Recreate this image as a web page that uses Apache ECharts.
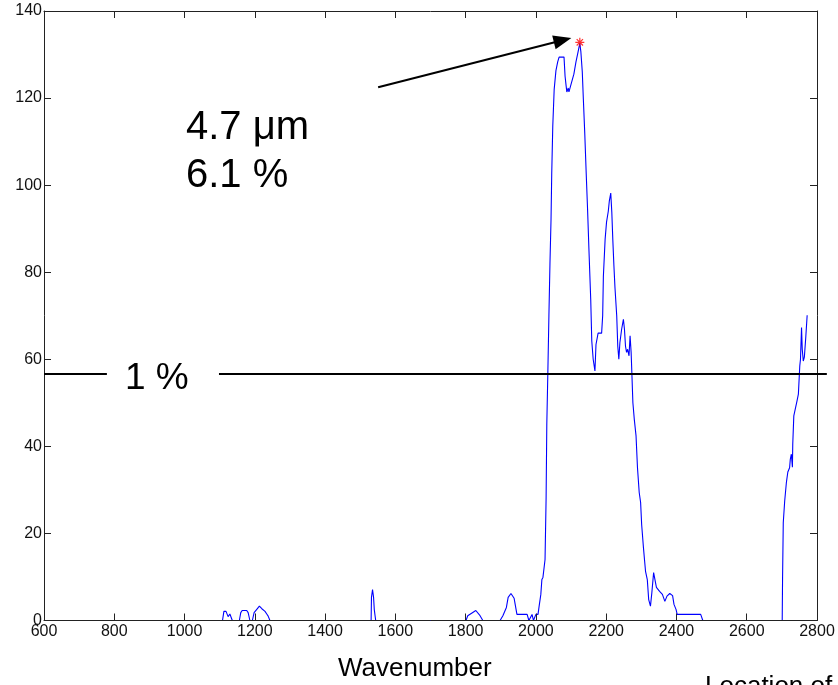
<!DOCTYPE html>
<html>
<head>
<meta charset="utf-8">
<script src="https://cdn.jsdelivr.net/npm/echarts@6/dist/echarts.min.js"></script>
<style>
html,body{margin:0;padding:0;background:#fff;}
#chart{width:838px;height:685px;}
</style>
</head>
<body>
<div id="chart"></div>
<script>
// ---- data ----
const waveNumber = [
  600,1108,1112,1118,1124,1129,1136,1156,1160,1164,1177,1181,1186,1193,1198,1205,1213,1220,1229,1234,1238,1243,
  1531,1532,1535,1538,1540,1544,1801,1806,1829,1841,1849,1898,1906,1916,1921,1929,1938,1946,1975,1980,1989,1993,
  2000,2006,2009,2014,2017,2020,2026,2029,2031,2034,2037,2040,2043,2045,2048,2052,2057,2062,2066,2080,2083,2086,
  2088,2092,2094,2097,2102,2108,2114,2120,2125,2128,2132,2135,2139,2143,2147,2151,2156,2159,2163,2168,2171,2177,
  2187,2190,2192,2197,2201,2206,2209,2213,2216,2219,2222,2225,2230,2233,2236,2239,2244,2249,2252,2255,2258,2261,
  2265,2268,2271,2273,2276,2280,2285,2289,2294,2298,2301,2306,2309,2312,2317,2321,2326,2330,2335,2339,2343,2352,
  2360,2367,2373,2381,2389,2393,2399,2402,2469,2475,2701,2702,2704,2708,2713,2717,2722,2724,2727,2730,2731,2734,
  2739,2743,2747,2751,2753,2756,2758,2761,2764,2768,2772
];
const signal = [
  0,0,2.1,2.1,0.9,1.5,0,0,1.8,2.3,2.3,1.8,0,0,1.8,2.5,3.3,2.7,2.1,1.5,1.0,0,
  0,5.3,7.1,5.3,2.5,0,0,1.1,2.3,1.1,0,0,1.1,3.0,5.3,6.2,5.1,1.4,1.4,0,1.4,0,
  1.4,1.4,3.2,6,9.4,9.9,14,28,45,57,70,82,92,102.5,113.6,122,126.3,128.3,129.4,129.4,125,122.8,
  121.4,122.3,121.4,122.3,122.5,125.5,128.3,130.6,132.6,130.6,126,119.8,112,103,94.5,85,73.8,64.2,60,57.3,63.4,66,
  66,70,79,87.6,91.5,94,96.4,98.2,93.8,87.2,81.5,76.5,70,63,60,63.8,66.9,69.2,66.9,63,61.6,62.3,
  60.8,65.4,61.6,57,50,46.2,42.4,35.2,29.4,27.1,22,16.8,14,11.3,9.4,4.8,3.3,6.4,11,10.6,7.6,6.7,
  6,4.4,5.6,6.2,5.7,3.7,2.5,1.4,1.4,0,0,9.8,22.5,27.4,31.8,34.1,35.1,37,38.2,35.2,40.5,47,
  48.9,50.4,52,58.5,60,67.3,62.3,59.6,60.5,65,70.1
];
const xTickLabels = ['600','800','1000','1200','1400','1600','1800','2000','2200','2400','2600','2800'];
const yTickLabels = ['0','20','40','60','80','100','120','140'];
const peakPoint = [2125, 132.8];
const onePercentLevel = 56.6;
const onePercentGap = [779, 1098];   // wavenumbers where the "1 %" line is interrupted
const onePercentEnd = 2828;
const arrowFrom = [1551, 122.5];
const arrowTo = [2076, 133.3];

// ---- chart ----
const xMin = Number(xTickLabels[0]), xMax = Number(xTickLabels[xTickLabels.length - 1]);
const yMin = Number(yTickLabels[0]), yMax = Number(yTickLabels[yTickLabels.length - 1]);
const curve = waveNumber.map((w, i) => [w, signal[i]]);
const FONT = "'Liberation Sans', Arial, Helvetica, sans-serif";
const axisColor = '#222';

const chart = echarts.init(document.getElementById('chart'), null, {renderer: 'canvas'});

function axisBase(showLabel, margin) {
  return {
    z: 10,
    axisLine: {show: true, onZero: false, lineStyle: {color: axisColor, width: 1}},
    axisTick: {show: true, inside: true, length: 7, lineStyle: {color: axisColor, width: 1}},
    splitLine: {show: false},
    axisLabel: {show: showLabel, color: '#111', fontFamily: FONT, fontSize: 16, margin: margin,
                formatter: v => String(v)}
  };
}

const option = {
  animation: false,
  backgroundColor: '#fff',
  grid: {left: 44, right: 21, top: 11, bottom: 64.5, containLabel: false},
  xAxis: [
    Object.assign(axisBase(true, 3), {type: 'value', min: xMin, max: xMax, interval: 200, position: 'bottom'}),
    Object.assign(axisBase(false, 3), {type: 'value', min: xMin, max: xMax, interval: 200, position: 'top'})
  ],
  yAxis: [
    Object.assign(axisBase(true, 2), {type: 'value', min: yMin, max: yMax, interval: 20, position: 'left'}),
    Object.assign(axisBase(false, 2), {type: 'value', min: yMin, max: yMax, interval: 20, position: 'right'})
  ],
  series: [
    {
      type: 'line',
      data: curve,
      showSymbol: false,
      symbol: 'none',
      lineStyle: {color: '#0000ff', width: 1.1},
      z: 3
    },
    {
      type: 'scatter',
      data: [peakPoint],
      symbol: 'path://M0,-5L0,5M-5,0L5,0M-3.5,-3.5L3.5,3.5M-3.5,3.5L3.5,-3.5',
      symbolSize: 9,
      itemStyle: {color: 'transparent', borderColor: '#ff0000', borderWidth: 1.2},
      z: 4
    },
    {
      type: 'line',
      data: [],
      clip: false,
      silent: true,
      markLine: {
        silent: true,
        animation: false,
        symbol: ['none', 'none'],
        label: {show: false},
        lineStyle: {color: '#000', width: 2, type: 'solid'},
        emphasis: {disabled: true},
        data: [
          [{coord: arrowFrom, symbol: 'none'}, {coord: arrowTo, symbol: 'triangle', symbolSize: [14, 18]}]
        ]
      },
      z: 5
    }
  ],
  graphic: [
    {type: 'text', left: 186, top: 108, style: {text: '4.7 μm', font: '40px ' + FONT, fill: '#000'}},
    {type: 'text', left: 186, top: 156, style: {text: '6.1 %', font: '40px ' + FONT, fill: '#000'}},
    {type: 'text', left: 125, top: 360, style: {text: '1 %', font: '37px ' + FONT, fill: '#000'}},
    {type: 'text', left: 338, top: 656, style: {text: 'Wavenumber', font: '26px ' + FONT, fill: '#000'}},
    {type: 'text', left: 705, top: 674, style: {text: 'Location of', font: '26px ' + FONT, fill: '#000'}}
  ]
};
chart.setOption(option);

// "1 %" level line, which runs past the right edge of the plot box
const p0 = chart.convertToPixel({gridIndex: 0}, [xMin, onePercentLevel]);
const p1 = chart.convertToPixel({gridIndex: 0}, [onePercentGap[0], onePercentLevel]);
const p2 = chart.convertToPixel({gridIndex: 0}, [onePercentGap[1], onePercentLevel]);
const p3 = chart.convertToPixel({gridIndex: 0}, [onePercentEnd, onePercentLevel]);
chart.setOption({
  graphic: [
    {id: 'lvl1', type: 'line', z: 50, shape: {x1: p0[0], y1: p0[1], x2: p1[0], y2: p1[1]},
     style: {stroke: '#000', lineWidth: 2}},
    {id: 'lvl2', type: 'line', z: 50, shape: {x1: p2[0], y1: p2[1], x2: p3[0], y2: p3[1]},
     style: {stroke: '#000', lineWidth: 2}}
  ]
});
</script>
</body>
</html>
